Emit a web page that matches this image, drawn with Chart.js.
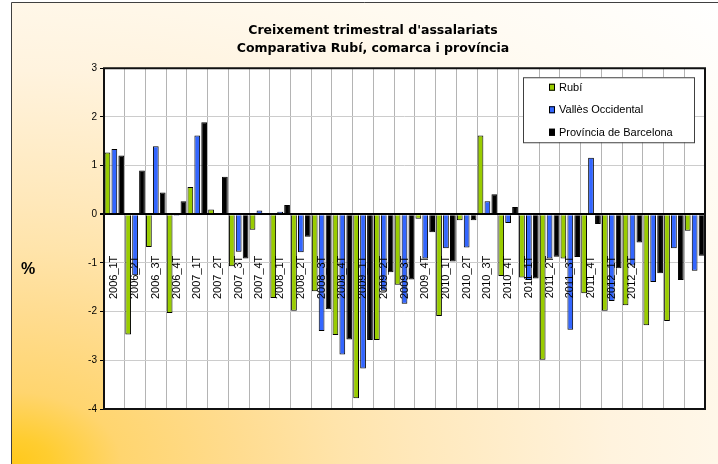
<!DOCTYPE html>
<html>
<head>
<meta charset="utf-8">
<script src="https://cdn.jsdelivr.net/npm/chart.js@4.4.1/dist/chart.umd.min.js"></script>
<style>
  html, body { margin: 0; padding: 0; background: #fff; }
  #wrap { width: 718px; height: 464px; }
</style>
</head>
<body>
<div id="wrap"><canvas id="growth-chart"></canvas></div>
<script>
// quarters (the last three have no visible label in the original)
const quarters = [
  "2006_1T", "2006_2T", "2006_3T", "2006_4T",
  "2007_1T", "2007_2T", "2007_3T", "2007_4T",
  "2008_1T", "2008_2T", "2008_3T", "2008_4T",
  "2009_1T", "2009_2T", "2009_3T", "2009_4T",
  "2010_1T", "2010_2T", "2010_3T", "2010_4T",
  "2011_1T", "2011_2T", "2011_3T", "2011_4T",
  "2012_1T", "2012_2T", "", "", ""
];

const rubi = [
  1.27, -2.47, -0.67, -2.03, 0.56, 0.10, -1.07, -0.32,
  -1.72, -1.98, -1.58, -2.48, -3.78, -2.58, -1.45, -0.09,
  -2.09, -0.12, 1.62, -1.27, -1.30, -2.99, -0.91, -1.62,
  -1.98, -1.87, -2.28, -2.19, -0.34
];
const valles = [
  1.34, -1.25, 1.40, -0.03, 1.62, 0.0, -0.77, 0.08,
  0.05, -0.78, -2.40, -2.88, -3.17, -1.57, -1.84, -0.91,
  -0.70, -0.68, 0.27, -0.18, -1.35, -0.91, -2.37, 1.16,
  -1.78, -1.05, -1.39, -0.70, -1.16
];
const barcelona = [
  1.21, 0.90, 0.45, 0.27, 1.89, 0.77, -0.91, 0.02,
  0.19, -0.46, -1.95, -2.57, -2.58, -1.19, -1.34, -0.37,
  -0.97, -0.12, 0.41, 0.15, -1.32, -0.87, -0.88, -0.20,
  -1.11, -0.58, -1.21, -1.35, -0.85
];

const seriesNames = ["Rubí", "Vallès Occidental", "Província de Barcelona"];
const seriesColors = ["#99cc00", "#3366ff", "#000000"];

const titleLines = [
  "Creixement trimestral d'assalariats",
  "Comparativa Rubí, comarca i província"
];

// orange corner gradient, outer frame and white plot area
const backdrop = {
  id: "backdrop",
  beforeDraw(chart) {
    const { ctx, width, height, chartArea } = chart;
    ctx.save();
    ctx.fillStyle = "#ffffff";
    ctx.fillRect(0, 0, width, height);

    ctx.save();
    ctx.translate(11, height);
    ctx.scale(width - 11, height - 2);
    const g = ctx.createRadialGradient(0, 0, 0, 0, 0, 1.42);
    g.addColorStop(0, "#ffc81a");
    g.addColorStop(0.04, "#ffcd30");
    g.addColorStop(0.11, "#ffd56f");
    g.addColorStop(0.23, "#ffdc90");
    g.addColorStop(0.33, "#ffe4ab");
    g.addColorStop(0.4, "#ffe8ba");
    g.addColorStop(0.6, "#fff3de");
    g.addColorStop(0.78, "#fffaf0");
    g.addColorStop(1, "#ffffff");
    ctx.fillStyle = g;
    ctx.fillRect(0, -1, 1, 1);
    ctx.restore();

    ctx.strokeStyle = "#404040";
    ctx.lineWidth = 1;
    ctx.beginPath();
    ctx.moveTo(11.5, height);
    ctx.lineTo(11.5, 2.5);
    ctx.lineTo(width, 2.5);
    ctx.stroke();

    ctx.fillStyle = "#ffffff";
    ctx.fillRect(chartArea.left, chartArea.top, chartArea.right - chartArea.left, chartArea.bottom - chartArea.top);
    ctx.restore();
  },
  afterDraw(chart) {
    const { ctx, chartArea } = chart;
    ctx.save();
    // plot frame
    ctx.strokeStyle = "#111";
    ctx.lineWidth = 2;
    ctx.strokeRect(chartArea.left, chartArea.top, chartArea.right - chartArea.left, chartArea.bottom - chartArea.top);

    // unit label
    ctx.fillStyle = "#000";
    ctx.font = 'bold 16px "Liberation Sans", Arial, sans-serif';
    ctx.textAlign = "center";
    ctx.textBaseline = "middle";
    ctx.fillText("%", 28, 270);

    // legend box
    const bx = chartArea.right - 182;
    const by = chartArea.top + 9;
    ctx.fillStyle = "#fff";
    ctx.fillRect(bx, by, 171, 65);
    ctx.strokeStyle = "#404040";
    ctx.lineWidth = 1;
    ctx.strokeRect(bx + 0.5, by + 0.5, 171, 65);
    ctx.font = '11px "Liberation Sans", Arial, sans-serif';
    ctx.textAlign = "left";
    chart.data.datasets.forEach((ds, i) => {
      const cy = by + 9.5 + i * 22.5;
      ctx.fillStyle = ds.backgroundColor;
      ctx.fillRect(bx + 26, cy - 3, 6, 7);
      ctx.strokeStyle = "#000";
      ctx.strokeRect(bx + 26.5, cy - 2.5, 5, 6);
      ctx.fillStyle = "#000";
      ctx.fillText(ds.label, bx + 36, cy + 1);
    });
    ctx.restore();
  }
};

const ctx = document.getElementById("growth-chart").getContext("2d");

new Chart(ctx, {
  type: "bar",
  data: {
    labels: quarters,
    datasets: [rubi, valles, barcelona].map((values, i) => ({
      label: seriesNames[i],
      data: values,
      backgroundColor: seriesColors[i],
      borderColor: "#000",
      borderWidth: 1,
      categoryPercentage: 1,
      barPercentage: 0.83
    }))
  },
  options: {
    responsive: true,
    maintainAspectRatio: false,
    animation: false,
    layout: {
      padding: { left: 41, right: 13, top: 0, bottom: 55 }
    },
    scales: {
      x: {
        position: { y: -0.85 },
        border: { display: false },
        grid: { offset: true, color: "#b4b4b4", drawTicks: false },
        ticks: {
          autoSkip: false,
          minRotation: 90,
          maxRotation: 90,
          padding: 0,
          color: "#000",
          z: 1,
          font: { family: '"Liberation Sans", Arial, sans-serif', size: 11 }
        }
      },
      y: {
        min: -4,
        max: 3,
        border: { display: false },
        grid: {
          color: (c) => (c.tick && c.tick.value === 0 ? "#000" : "#cccccc"),
          lineWidth: (c) => (c.tick && c.tick.value === 0 ? 2 : 1),
          tickColor: "#000",
          tickLength: 4
        },
        ticks: {
          stepSize: 1,
          padding: 3,
          color: "#000",
          font: { family: '"Liberation Sans", Arial, sans-serif', size: 10 }
        },
        afterFit: (scale) => {
          scale.width = 63;
        }
      }
    },
    plugins: {
      legend: { display: false },
      tooltip: { enabled: false },
      title: {
        display: true,
        text: titleLines,
        color: "#000",
        font: { family: '"DejaVu Sans", sans-serif', weight: "bold", size: 12.5, lineHeight: 1.45 },
        padding: { top: 22, bottom: 10 }
      }
    }
  },
  plugins: [backdrop]
});
</script>
</body>
</html>
